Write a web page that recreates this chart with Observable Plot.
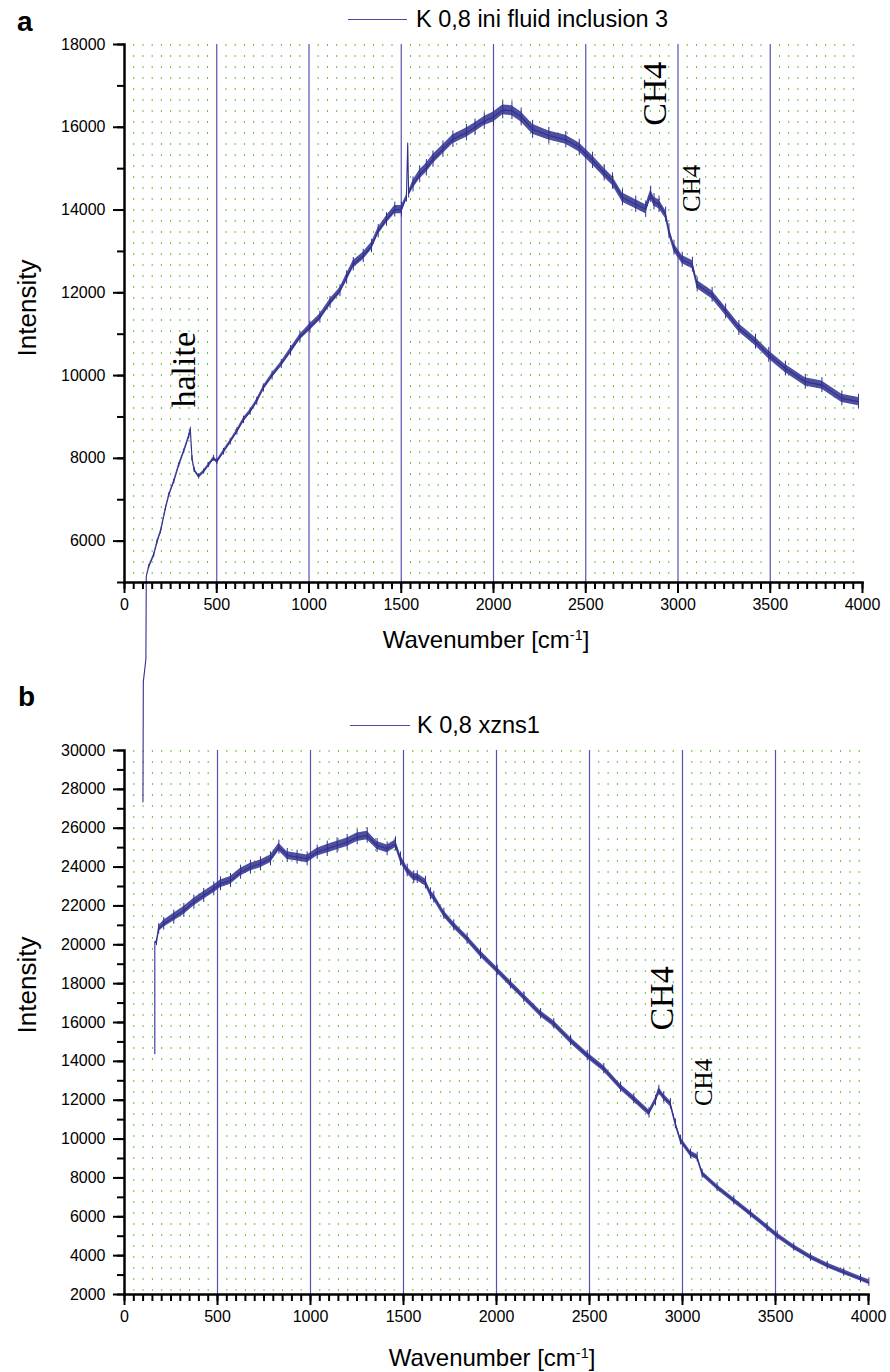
<!DOCTYPE html>
<html><head><meta charset="utf-8">
<script src="https://cdn.jsdelivr.net/npm/d3@7"></script>
<script src="https://cdn.jsdelivr.net/npm/@observablehq/plot@0.6"></script>
<style>
body{margin:0;background:#fff;font-family:"Liberation Sans",Arial,sans-serif;color:#000;}
#wrap{position:relative;width:890px;height:1372px;overflow:hidden;}
.panel{position:absolute;left:0;}
#pa{top:0;z-index:2;}
#pb{top:660px;z-index:1;}
.lab{position:absolute;z-index:3;line-height:1;white-space:nowrap;}
.letter{font-weight:bold;font-size:28px;}
.leg{font-size:23.5px;}
.legline{position:absolute;z-index:3;height:0;border-top:1px solid #4a4aa8;}
.xt{font-size:24px;width:400px;text-align:center;}
.yt{font-size:26px;transform:translate(-50%,-50%) rotate(-90deg);}
sup{font-size:0.6em;vertical-align:0;position:relative;top:-0.55em;}
</style>
</head><body>
<div id="wrap">
  <div class="lab letter" style="left:17px;top:8px">a</div>
  <div class="legline" style="left:348px;top:19px;width:59px"></div>
  <div class="lab leg" style="left:416px;top:8px">K 0,8 ini fluid inclusion 3</div>
  <div class="lab yt" style="left:27px;top:308px">Intensity</div>
  <div class="lab xt" style="left:286px;top:628px">Wavenumber [cm<sup>-1</sup>]</div>

  <div class="lab letter" style="left:18px;top:683px">b</div>
  <div class="legline" style="left:350px;top:725px;width:60px"></div>
  <div class="lab leg" style="left:417px;top:714px">K 0,8 xzns1</div>
  <div class="lab yt" style="left:27px;top:985px">Intensity</div>
  <div class="lab xt" style="left:292px;top:1346px">Wavenumber [cm<sup>-1</sup>]</div>

  <div id="pa" class="panel"></div>
  <div id="pb" class="panel"></div>
</div>
<script>
// ---------- data ----------
const legendA = "K 0,8 ini fluid inclusion 3";
const legendB = "K 0,8 xzns1";

// panel a spectrum: wavenumber, intensity, noise half-spread
const waveA = [100,102,116,118,131,158,177,195,222,240,267,294,321,348,357,366,378,402,429,456,483,501,537,573,609,645,681,717,753,800,850,900,951,1005,1059,1114,1168,1204,1240,1294,1339,1375,1420,1465,1501,1528,1535,1540,1564,1600,1636,1672,1726,1780,1853,1900,1950,2000,2050,2100,2150,2212,2300,2392,2465,2537,2600,2645,2699,2771,2825,2852,2870,2897,2933,2951,2978,3023,3078,3104,3185,3258,3330,3420,3492,3582,3690,3780,3888,3978];
const intA  = [-300,2600,3150,5150,5380,5660,5990,6230,6790,7110,7440,7840,8170,8530,8690,8000,7720,7560,7680,7840,8000,7920,8160,8400,8650,8930,9130,9380,9700,10000,10280,10600,10930,11170,11410,11770,12050,12370,12690,12890,13130,13490,13770,14010,14010,14300,15620,14400,14620,14860,15020,15230,15470,15710,15870,16000,16150,16250,16420,16400,16250,15950,15800,15700,15510,15200,14900,14700,14300,14140,14020,14380,14200,14140,13890,13490,13090,12800,12680,12200,11950,11550,11150,10820,10500,10170,9850,9770,9450,9370];
const noiseA = [0,0,0,0,25,30,30,30,30,30,30,30,30,35,35,35,35,35,35,35,40,40,45,45,50,50,50,55,55,60,60,70,70,80,80,80,80,90,90,90,90,90,90,100,100,60,0,60,100,110,110,110,110,110,110,110,110,120,120,120,120,120,110,110,110,110,110,110,110,110,110,110,110,110,100,100,100,100,100,100,100,100,100,100,100,100,100,100,100,100];

// panel b spectrum
const waveB = [163,163,172,184,211,265,319,373,426,480,516,570,624,677,731,785,830,875,928,982,1036,1090,1143,1197,1251,1305,1358,1412,1457,1484,1520,1555,1574,1618,1645,1663,1717,1770,1842,1914,2004,2075,2147,2237,2308,2398,2488,2577,2667,2738,2820,2855,2873,2899,2935,2962,2989,3043,3079,3106,3186,3276,3366,3455,3509,3598,3688,3778,3867,3957,4002];
const intB  = [14390,20135,20135,20820,21080,21420,21765,22195,22540,22880,23140,23310,23735,23995,24170,24425,25025,24595,24510,24425,24765,24940,25110,25280,25540,25625,25110,24940,25195,24420,23825,23480,23480,23200,22625,22450,21595,20995,20310,19535,18680,17995,17305,16450,15935,15075,14300,13620,12670,12075,11350,11985,12500,12155,11815,10785,9950,9240,9070,8215,7525,6840,6155,5465,5040,4440,3920,3495,3150,2810,2635];
const noiseB = [0,0,100,150,180,200,200,200,200,200,200,200,200,200,200,200,200,200,200,200,200,220,220,220,220,220,200,200,200,200,180,180,180,180,170,170,160,160,160,160,150,150,150,150,150,150,150,150,150,150,150,150,150,150,150,140,140,140,140,130,130,130,130,130,130,120,120,120,120,120,120];

// axes / ticks
const xTickLabels = [0,500,1000,1500,2000,2500,3000,3500,4000];
const xMajorLines = [500,1000,1500,2000,2500,3000,3500];
const yTicksA = [6000,8000,10000,12000,14000,16000,18000];
const yTicksB = [2000,4000,6000,8000,10000,12000,14000,16000,18000,20000,22000,24000,26000,28000,30000];

// annotations (data coordinates)
const annWaveA = [380, 2935, 3119];
const annIntA  = [10140, 16810, 14525];
const annTextA = ["halite", "CH4", "CH4"];
const annSizeA = [34, 34, 25];
const annWaveB = [2950, 3156];
const annIntB  = [17236, 12913];
const annTextB = ["CH4", "CH4"];
const annSizeB = [34, 25];

// ---------- build ----------
const specA = waveA.map((w,i)=>({w, I:intA[i], s:noiseA[i]}));
const specB = waveB.map((w,i)=>({w, I:intB[i], s:noiseB[i]}));
const annA = annWaveA.map((w,i)=>({w, I:annIntA[i], t:annTextA[i], size:annSizeA[i]}));
const annB = annWaveB.map((w,i)=>({w, I:annIntB[i], t:annTextB[i], size:annSizeB[i]}));
const xMinor = d3.range(0, 4001, 50);
const gridMinor = d3.range(50, 4000, 50).filter(d => d % 500 !== 0);

const LINE = "#30308f";
const GRID = "#5fc33f";
const MAJ = "#5353b0";
const FONT = "'Liberation Sans', Arial, sans-serif";

function panel({spec, ann, yDomain, yTicks, yMinor, height, marginTop, marginRight}) {
  return Plot.plot({
    width: 890, height,
    marginLeft: 124, marginRight, marginTop, marginBottom: 78,
    x: {domain: [0, 4000]},
    y: {domain: yDomain},
    style: {overflow: "visible", background: "transparent", fontFamily: FONT, fontSize: "16px", color: "#000"},
    marks: [
      Plot.ruleX(gridMinor, {stroke: GRID, strokeWidth: 1, strokeDasharray: "2,9"}),
      Plot.ruleX(xMajorLines, {stroke: MAJ, strokeWidth: 1.2}),
      Plot.areaY(spec, {x: "w", y1: d => d.I - d.s, y2: d => d.I + d.s, fill: LINE, fillOpacity: 0.85}),
      Plot.ruleX(spec, {x: "w", y1: d => d.I - 1.8 * d.s, y2: d => d.I + 1.8 * d.s, stroke: LINE, strokeWidth: 1}),
      Plot.line(spec, {x: "w", y: "I", stroke: LINE, strokeWidth: 1.1}),
      Plot.text(ann, {x: "w", y: "I", text: "t", rotate: -90, fontSize: "size", lineAnchor: "bottom", textAnchor: "middle", fontFamily: "'Liberation Serif', 'Times New Roman', serif", fill: "#000"}),
      Plot.axisX(xTickLabels, {tickSize: 11, tickPadding: 5, strokeWidth: 2, tickFormat: d => String(d), label: null, fontSize: 16}),
      Plot.axisX(xMinor, {tickSize: 7, strokeWidth: 2, tickFormat: () => "", label: null}),
      Plot.axisY(yTicks, {tickSize: 11, tickPadding: 8, strokeWidth: 2, tickFormat: d => String(d), label: null, fontSize: 16}),
      Plot.axisY(yMinor, {tickSize: 7, strokeWidth: 2, tickFormat: () => "", label: null}),
      Plot.frame({anchor: "bottom", strokeWidth: 2.5}),
      Plot.frame({anchor: "left", strokeWidth: 2.5})
    ]
  });
}

const yMinorA = d3.range(5000, 18001, 1000);
const yMinorB = d3.range(2000, 30001, 1000);

document.getElementById("pa").appendChild(panel({spec: specA, ann: annA, yDomain: [5000, 18000], yTicks: yTicksA, yMinor: yMinorA, height: 660, marginTop: 44, marginRight: 28}));
document.getElementById("pb").appendChild(panel({spec: specB, ann: annB, yDomain: [2000, 30000], yTicks: yTicksB, yMinor: yMinorB, height: 712, marginTop: 90, marginRight: 22}));
</script>
</body></html>
